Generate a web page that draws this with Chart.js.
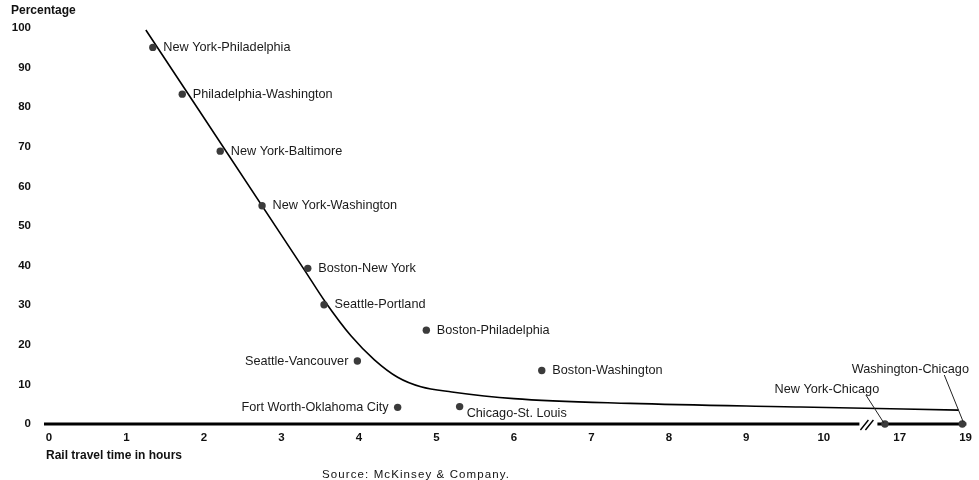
<!DOCTYPE html>
<html>
<head>
<meta charset="utf-8">
<script src="https://cdn.jsdelivr.net/npm/chart.js@4.4.1/dist/chart.umd.min.js"></script>
<style>
  html, body { margin: 0; padding: 0; background: #fff; }
  #wrap { width: 979px; height: 480px; position: relative; }
</style>
</head>
<body>
<div id="wrap"><canvas id="chart"></canvas></div>
<script>
// city pairs, rail travel time (hours) and air-rail share (percentage)
const pairNames = [
  "New York-Philadelphia", "Philadelphia-Washington", "New York-Baltimore",
  "New York-Washington", "Boston-New York", "Seattle-Portland",
  "Boston-Philadelphia", "Seattle-Vancouver", "Boston-Washington",
  "Fort Worth-Oklahoma City", "Chicago-St. Louis", "New York-Chicago",
  "Washington-Chicago"
];
const pairHours = [1.34, 1.72, 2.21, 2.75, 3.34, 3.55, 4.87, 3.98, 6.36, 4.50, 5.30, 16.55, 18.9];
const pairShare = [95.1, 83.3, 68.9, 55.1, 39.3, 30.1, 23.7, 15.9, 13.5, 4.2, 4.4, 0, 0];

// fitted curve
const curveHours = [1.25, 3.30, 3.56, 3.90, 4.20, 4.50, 4.80, 5.20, 6.00, 7.50, 9.70, 18.79];
const curveShare = [99.5, 38.8, 31.0, 22.2, 16.2, 11.8, 9.4, 8.1, 6.4, 5.2, 4.3, 3.5];

const xTickHours = [0, 1, 2, 3, 4, 5, 6, 7, 8, 9, 10, 17, 19];
const xTickLabels = ["0", "1", "2", "3", "4", "5", "6", "7", "8", "9", "10", "17", "19"];

// broken axis: 0-10 at full scale, 17-19 compressed after the break
function toAxis(h){
    if(h <= 10) return h;
    return 10.98 + (h - 17) * 0.425;
}
const BREAK_AT = 10.55;

// where each label sits relative to its dot
const labelSide = ["r","r","r","r","r","r","r","l","r","l","br","leadA","leadB"];

const FONT = "'Liberation Sans', Arial, Helvetica, sans-serif";

const overlay = {
    id: "overlay",
    beforeDatasetsDraw(chart){
        const {ctx, chartArea, scales:{x, y}} = chart;
        const y0 = y.getPixelForValue(0);
        const bx = x.getPixelForValue(BREAK_AT);
        ctx.save();
        ctx.strokeStyle = "#000";
        ctx.lineWidth = 3.2;
        ctx.beginPath();
        ctx.moveTo(chartArea.left, y0);
        ctx.lineTo(bx - 7, y0);
        ctx.moveTo(bx + 11, y0);
        ctx.lineTo(chartArea.right - 1, y0);
        ctx.stroke();
        // break marks
        ctx.lineWidth = 1.4;
        ctx.beginPath();
        ctx.moveTo(bx - 6, y0 + 6); ctx.lineTo(bx + 2, y0 - 4);
        ctx.moveTo(bx - 1, y0 + 6); ctx.lineTo(bx + 7, y0 - 4);
        ctx.stroke();
        ctx.restore();
    },
    afterDraw(chart){
        const {ctx, scales:{x, y}} = chart;
        ctx.save();
        ctx.fillStyle = "#111";
        ctx.textBaseline = "middle";

        // titles
        ctx.font = "bold 12px " + FONT;
        ctx.textAlign = "left";
        ctx.fillText("Percentage", 11, 11);
        ctx.fillText("Rail travel time in hours", 46, 456);

        ctx.font = "11.5px " + FONT;
        ctx.textAlign = "center";
        ctx.letterSpacing = "1.1px";
        ctx.fillText("Source: McKinsey & Company.", 416, 475);
        ctx.letterSpacing = "0px";

        // point labels
        ctx.font = "12.7px " + FONT;
        ctx.fillStyle = "#1a1a1a";
        ctx.strokeStyle = "#222";
        ctx.lineWidth = 1;
        pairNames.forEach((name, i) => {
            const px = x.getPixelForValue(toAxis(pairHours[i]));
            const py = y.getPixelForValue(pairShare[i]);
            const side = labelSide[i];
            if(side === "r"){
                ctx.textAlign = "left";
                ctx.fillText(name, px + 10.5, py);
            } else if(side === "l"){
                ctx.textAlign = "right";
                ctx.fillText(name, px - 9, py);
            } else if(side === "br"){
                ctx.textAlign = "left";
                ctx.fillText(name, px + 7, py + 6.5);
            } else if(side === "leadA"){
                ctx.textAlign = "center";
                ctx.fillText(name, px - 58, py - 35);
                ctx.beginPath();
                ctx.moveTo(px - 19, py - 29);
                ctx.lineTo(px - 1, py - 1);
                ctx.stroke();
            } else if(side === "leadB"){
                ctx.textAlign = "center";
                ctx.fillText(name, px - 52, py - 55);
                ctx.beginPath();
                ctx.moveTo(px - 18, py - 49);
                ctx.lineTo(px + 1, py - 2);
                ctx.stroke();
            }
        });
        ctx.restore();
    }
};

const curveData = curveHours.map((h, i) => ({x: toAxis(h), y: curveShare[i]}));
const pointData = pairHours.map((h, i) => ({x: toAxis(h), y: pairShare[i]}));

new Chart(document.getElementById("chart"), {
    type: "scatter",
    data: {
        datasets: [
            {
                data: curveData,
                showLine: true,
                borderColor: "#000",
                borderWidth: 1.6,
                pointRadius: 0,
                cubicInterpolationMode: "monotone",
                clip: false,
                order: 2
            },
            {
                data: pointData,
                showLine: false,
                pointRadius: 3.7,
                pointBackgroundColor: "#3b3b3b",
                pointBorderWidth: 0,
                clip: false,
                order: 1
            }
        ]
    },
    options: {
        responsive: true,
        maintainAspectRatio: false,
        animation: false,
        layout: { padding: { top: 28, right: 9, left: 0, bottom: 0 } },
        plugins: { legend: { display: false }, tooltip: { enabled: false } },
        scales: {
            x: {
                type: "linear",
                min: -0.0644,
                max: 11.853,
                grid: { display: false, drawTicks: false },
                border: { display: false },
                afterBuildTicks: s => { s.ticks = xTickHours.map(h => ({value: toAxis(h)})); },
                afterFit: s => { s.height = 56; },
                ticks: {
                    autoSkip: false,
                    maxRotation: 0,
                    padding: 7,
                    color: "#111",
                    font: { family: FONT, size: 11.5, weight: "bold" },
                    callback: (v, i) => xTickLabels[i]
                }
            },
            y: {
                min: 0,
                max: 100,
                grid: { display: false, drawTicks: false },
                border: { display: false },
                afterFit: s => { s.width = 44; },
                ticks: {
                    stepSize: 10,
                    padding: 13,
                    color: "#111",
                    font: { family: FONT, size: 11.5, weight: "bold" }
                }
            }
        }
    },
    plugins: [overlay]
});
</script>
</body>
</html>
